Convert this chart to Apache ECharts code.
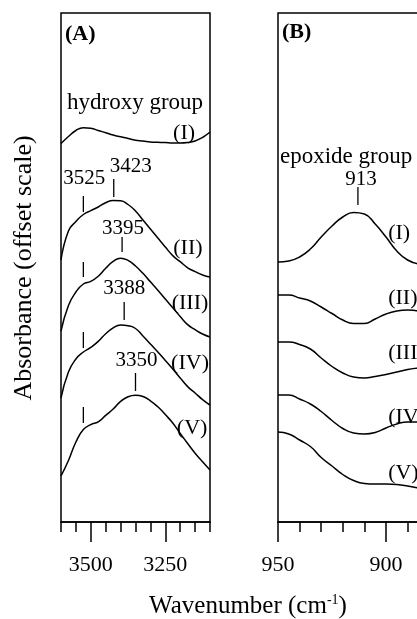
<!DOCTYPE html>
<html>
<head>
<meta charset="utf-8">
<script src="https://cdn.jsdelivr.net/npm/echarts@6/dist/echarts.min.js"></script>
<style>
  html, body { margin: 0; padding: 0; background: #ffffff; overflow: hidden; }
  /* the epoxide panel runs on past the right edge of the page */
  #chart { width: 520px; height: 619px; }
</style>
</head>
<body>
<div id="chart"></div>
<script>
// ---- Hydroxy region: wavenumbers (cm-1) and absorbance on an offset scale ----
const hydroxyWavenumbers = [3600,3575,3550,3525,3500,3475,3450,3425,3400,3375,3350,3325,3300,3275,3250,3225,3200,3175,3150,3125,3100];
const hydroxyI   = [3.785,3.855,3.915,3.942,3.938,3.915,3.893,3.870,3.852,3.835,3.818,3.810,3.800,3.797,3.794,3.790,3.790,3.795,3.810,3.845,3.900];
const hydroxyII  = [2.62,2.91,3.005,3.075,3.114,3.15,3.193,3.215,3.213,3.175,3.11,3.02,2.93,2.84,2.75,2.664,2.603,2.542,2.504,2.47,2.45];
const hydroxyIII = [1.91,2.165,2.30,2.38,2.406,2.458,2.538,2.606,2.638,2.616,2.56,2.487,2.402,2.318,2.229,2.142,2.055,1.974,1.923,1.88,1.85];
const hydroxyIV  = [1.24,1.50,1.63,1.70,1.746,1.806,1.883,1.942,1.971,1.963,1.935,1.86,1.78,1.70,1.616,1.53,1.44,1.354,1.29,1.224,1.17];
const hydroxyV   = [0.46,0.615,0.80,0.925,0.974,1.002,1.066,1.13,1.206,1.253,1.268,1.255,1.212,1.152,1.074,0.99,0.886,0.785,0.688,0.602,0.52];

// ---- Epoxide region ----
const epoxideWavenumbers = [950,945,940,935,930,925,920,915,910,905,900,895,890,885];
const epoxideI   = [2.60,2.61,2.65,2.73,2.85,2.96,3.05,3.095,3.08,2.98,2.85,2.71,2.62,2.58];
const epoxideII  = [2.27,2.27,2.24,2.21,2.15,2.085,2.02,1.985,1.985,2.03,2.08,2.11,2.12,2.11];
const epoxideIII = [1.80,1.80,1.775,1.73,1.64,1.555,1.49,1.45,1.44,1.455,1.475,1.50,1.525,1.54];
const epoxideIV  = [1.27,1.27,1.23,1.18,1.105,1.015,0.935,0.89,0.88,0.895,0.94,0.98,1.00,1.00];
const epoxideV   = [0.90,0.88,0.82,0.755,0.645,0.56,0.475,0.415,0.385,0.38,0.38,0.375,0.36,0.34];

// ---- Band position markers: [wavenumber, lower end, upper end] ----
const hydroxyPeaks = [[3525,3.10,3.26],[3423,3.25,3.43],[3525,2.45,2.60],[3395,2.70,2.85],[3525,1.74,1.90],[3388,2.02,2.20],[3525,0.99,1.15],[3350,1.31,1.49]];
const hydroxyPeakText = ['3525','3423','','3395','','3388','','3350'];
const epoxidePeaks = [[913,3.17,3.35]];
const epoxidePeakText = ['913'];

// ---- Axis ticks ----
const hydroxyMinorTicks = [3600,3550,3500,3450,3400,3350,3300,3250,3200,3150,3100];
const hydroxyMajorTicks = [3500,3250];
const epoxideMinorTicks = [950,940,930,920,910,900,890,880,870,860,850];
const epoxideMajorTicks = [950,900,850];

const sampleNames = ['(I)','(II)','(III)','(IV)','(V)'];

const FONT = 'Liberation Serif';
const INK = '#000000';

// label placement for each band marker: [dx, distance above marker top, align]
const hydroxyPeakLabelPlace = [[1,18,'center'],[-4,13,'left'],[0,0,'center'],[1,9,'center'],[0,0,'center'],[0,14,'center'],[0,0,'center'],[1,13,'center']];
const epoxidePeakLabelPlace = [[3,8,'center']];

// where the sample tags sit on each panel
const hydroxyTagAt = [[3187,3.89],[3174,2.74],[3167,2.19],[3167,1.59],[3160,0.94]];
const epoxideTagAt = [[899,2.89],[899,2.24],[899,1.69],[899,1.05],[899,0.49]];

const chart = echarts.init(document.getElementById('chart'), null, { renderer: 'canvas' });

function pairUp(xs, ys) {
  return xs.map(function (x, i) { return [x, ys[i]]; });
}

function spectrum(xs, ys, gi) {
  return {
    type: 'line', data: pairUp(xs, ys), xAxisIndex: gi * 2, yAxisIndex: gi,
    smooth: 0.5, showSymbol: false, symbol: 'none', silent: true,
    lineStyle: { color: INK, width: 1.5 }
  };
}

function markerSeries(peaks, texts, place, gi) {
  return {
    type: 'custom', xAxisIndex: gi * 2, yAxisIndex: gi, silent: true,
    data: peaks,
    renderItem: function (params, api) {
      const x = api.value(0);
      const lo = api.coord([x, api.value(1)]);
      const hi = api.coord([x, api.value(2)]);
      const children = [{
        type: 'line',
        shape: { x1: lo[0], y1: lo[1], x2: hi[0], y2: hi[1] },
        style: { stroke: INK, lineWidth: 1.3 }
      }];
      const t = texts[params.dataIndex];
      if (t) {
        const p = place[params.dataIndex];
        children.push({
          type: 'text',
          x: hi[0] + p[0], y: hi[1] - p[1],
          style: { text: t, fill: INK, font: '21px "' + FONT + '"', align: p[2], verticalAlign: 'middle' }
        });
      }
      return { type: 'group', children: children };
    }
  };
}

function tagSeries(at, gi, align) {
  return {
    type: 'custom', xAxisIndex: gi * 2, yAxisIndex: gi, silent: true,
    data: at,
    renderItem: function (params, api) {
      const p = api.coord([api.value(0), api.value(1)]);
      return {
        type: 'text', x: p[0], y: p[1],
        style: { text: sampleNames[params.dataIndex], fill: INK, font: '22px "' + FONT + '"', align: align, verticalAlign: 'middle' }
      };
    }
  };
}

function minorAxis(gi, min, max, ticks) {
  return {
    type: 'value', gridIndex: gi, position: 'bottom', inverse: true, min: min, max: max,
    axisLine: { show: true, lineStyle: { color: INK, width: 1.5 } },
    axisTick: { show: true, customValues: ticks, length: 10, lineStyle: { color: INK, width: 1.5 } },
    axisLabel: { show: false }, splitLine: { show: false }
  };
}

function majorAxis(gi, min, max, ticks) {
  return {
    type: 'value', gridIndex: gi, position: 'bottom', inverse: true, min: min, max: max,
    axisLine: { show: false },
    axisTick: { show: true, customValues: ticks, length: 20, lineStyle: { color: INK, width: 1.5 } },
    axisLabel: {
      show: true, customValues: ticks, margin: 32, color: INK, fontFamily: FONT, fontSize: 22,
      formatter: function (v) { return String(v); }
    },
    splitLine: { show: false }
  };
}

const option = {
  backgroundColor: '#ffffff',
  animation: false,
  grid: [
    { left: 61, top: 13, width: 149, height: 509, show: true, borderColor: INK, borderWidth: 1.5, containLabel: false },
    { left: 278, top: 13, width: 216, height: 509, show: true, borderColor: INK, borderWidth: 1.5, containLabel: false }
  ],
  xAxis: [
    minorAxis(0, 3100, 3600, hydroxyMinorTicks),
    majorAxis(0, 3100, 3600, hydroxyMajorTicks),
    minorAxis(1, 850, 950, epoxideMinorTicks),
    majorAxis(1, 850, 950, epoxideMajorTicks)
  ],
  yAxis: [
    { type: 'value', gridIndex: 0, min: 0, max: 5.09, show: false, splitLine: { show: false } },
    { type: 'value', gridIndex: 1, min: 0, max: 5.09, show: false, splitLine: { show: false } }
  ],
  series: [
    spectrum(hydroxyWavenumbers, hydroxyI, 0),
    spectrum(hydroxyWavenumbers, hydroxyII, 0),
    spectrum(hydroxyWavenumbers, hydroxyIII, 0),
    spectrum(hydroxyWavenumbers, hydroxyIV, 0),
    spectrum(hydroxyWavenumbers, hydroxyV, 0),
    spectrum(epoxideWavenumbers, epoxideI, 1),
    spectrum(epoxideWavenumbers, epoxideII, 1),
    spectrum(epoxideWavenumbers, epoxideIII, 1),
    spectrum(epoxideWavenumbers, epoxideIV, 1),
    spectrum(epoxideWavenumbers, epoxideV, 1),
    markerSeries(hydroxyPeaks, hydroxyPeakText, hydroxyPeakLabelPlace, 0),
    markerSeries(epoxidePeaks, epoxidePeakText, epoxidePeakLabelPlace, 1),
    tagSeries(hydroxyTagAt, 0, 'center'),
    tagSeries(epoxideTagAt, 1, 'left')
  ],
  graphic: [
    { type: 'text', left: 65, top: 23, style: { text: '(A)', fill: INK, font: 'bold 22px "' + FONT + '"' } },
    { type: 'text', left: 282, top: 21, style: { text: '(B)', fill: INK, font: 'bold 22px "' + FONT + '"' } },
    { type: 'text', x: 135, y: 103, style: { text: 'hydroxy group', fill: INK, font: '23px "' + FONT + '"', align: 'center', verticalAlign: 'middle' } },
    { type: 'text', x: 280, y: 157, style: { text: 'epoxide group', fill: INK, font: '23px "' + FONT + '"', align: 'left', verticalAlign: 'middle' } },
    { type: 'text', x: 24, y: 268, rotation: Math.PI / 2,
      style: { text: 'Absorbance (offset scale)', fill: INK, font: '26px "' + FONT + '"', align: 'center', verticalAlign: 'middle' } },
    { type: 'text', x: 248, y: 606,
      style: {
        text: 'Wavenumber (cm{sup|-1})', fill: INK, font: '25px "' + FONT + '"', align: 'center', verticalAlign: 'middle',
        rich: { sup: { fontFamily: FONT, fontSize: 14, verticalAlign: 'top', padding: [0, 0, 9, 0], fill: INK } }
      } }
  ]
};

chart.setOption(option);
</script>
</body>
</html>
